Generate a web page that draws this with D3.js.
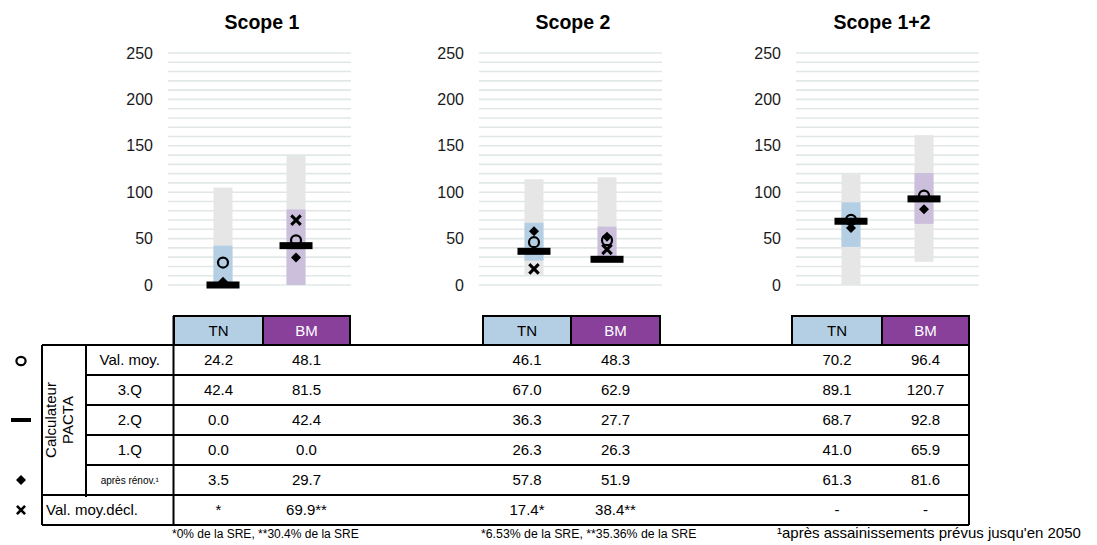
<!DOCTYPE html>
<html>
<head>
<meta charset="utf-8">
<script src="https://cdn.jsdelivr.net/npm/d3@7"></script>
<style>
  html, body { margin: 0; padding: 0; background: #fff; }
  svg { display: block; font-family: "Liberation Sans", Arial, sans-serif; }
</style>
</head>
<body>
<svg id="chart" width="1097" height="545"></svg>
<script>
// ---------- DATA ----------
const scopes = ["Scope 1", "Scope 2", "Scope 1+2"];
const categories = ["TN", "BM"];
const valMoy     = [[24.2, 48.1], [46.1, 48.3], [70.2, 96.4]];
const q3         = [[42.4, 81.5], [67.0, 62.9], [89.1, 120.7]];
const q2         = [[0.0, 42.4], [36.3, 27.7], [68.7, 92.8]];
const q1         = [[0.0, 0.0], [26.3, 26.3], [41.0, 65.9]];
const apresRenov = [[3.5, 29.7], [57.8, 51.9], [61.3, 81.6]];
const valMoyDecl = [[null, 69.9], [17.4, 38.4], [null, null]];
const declLabels = [["*", "69.9**"], ["17.4*", "38.4**"], ["-", "-"]];
const rangeMin   = [[0, 0], [11, 26.3], [0, 25]];
const rangeMax   = [[105, 139], [114, 116], [119.5, 161.5]];
const yTicks     = [0, 50, 100, 150, 200, 250];
const rowLabels  = ["Val. moy.", "3.Q", "2.Q", "1.Q", "après rénov.¹", "Val. moy.décl."];
const groupLabel = ["Calculateur", "PACTA"];
const footnotes  = ["*0% de la SRE, **30.4% de la SRE", "*6.53% de la SRE, **35.36% de la SRE", "¹après assainissements prévus jusqu'en 2050"];

// ---------- LAYOUT ----------
const layout = [
  { x0: 168, x1: 351, titleX: 262, cols: [174, 263, 350], noteX: 172, noteSize: 12 },
  { x0: 479, x1: 662, titleX: 573, cols: [483, 571, 660], noteX: 481, noteSize: 12.3 },
  { x0: 796, x1: 979, titleX: 882, cols: [792, 882, 969], noteX: 777, noteSize: 15 }
];
const colors = {
  range: "#e6e6e6",
  box: { TN: "#b4cfe4", BM: "#cbbfdc" },
  header: { TN: "#b4cfe4", BM: "#88409b" },
  headerText: { TN: "#000", BM: "#fff" },
  grid: "#e1e7e7"
};

const svg = d3.select("#chart");
const y = d3.scaleLinear().domain([0, 250]).range([285, 53]);
const gridVals = d3.range(0, 251, 10);

scopes.forEach((scope, si) => {
  const L = layout[si];
  const x = d3.scalePoint().domain(categories).range([L.x0, L.x1]).padding(0.753);
  const g = svg.append("g");

  g.append("text").attr("x", L.titleX).attr("y", 29).attr("text-anchor", "middle")
    .attr("font-size", 19.5).attr("font-weight", "bold").text(scope);

  g.selectAll("line.grid").data(gridVals).enter().append("line")
    .attr("x1", L.x0).attr("x2", L.x1)
    .attr("y1", d => y(d)).attr("y2", d => y(d))
    .attr("stroke", colors.grid).attr("stroke-width", 1.6);

  const ax = g.append("g").attr("transform", `translate(${L.x0},0)`)
    .call(d3.axisLeft(y).tickValues(yTicks).tickSize(0).tickPadding(15));
  ax.select(".domain").remove();
  ax.selectAll("text").attr("font-size", 16).attr("fill", "#1a1a1a")
    .attr("font-family", '"Liberation Sans", Arial, sans-serif');

  const bw = 19, mw = 33, mh = 7;
  categories.forEach((c, ci) => {
    const cx = x(c);
    g.append("rect").attr("x", cx - bw / 2).attr("width", bw)
      .attr("y", y(rangeMax[si][ci])).attr("height", y(rangeMin[si][ci]) - y(rangeMax[si][ci]))
      .attr("fill", colors.range);
    g.append("rect").attr("x", cx - bw / 2).attr("width", bw)
      .attr("y", y(q3[si][ci])).attr("height", y(q1[si][ci]) - y(q3[si][ci]))
      .attr("fill", colors.box[c]);
    g.append("circle").attr("cx", cx).attr("cy", y(valMoy[si][ci])).attr("r", 5)
      .attr("fill", "none").attr("stroke", "#000").attr("stroke-width", 2.2);
    g.append("rect").attr("x", cx - mw / 2).attr("width", mw)
      .attr("y", y(q2[si][ci]) - mh / 2).attr("height", mh).attr("fill", "#000");
    g.append("path").attr("d", d3.symbol(d3.symbolDiamond2, 64)())
      .attr("transform", `translate(${cx},${y(apresRenov[si][ci])})`).attr("fill", "#000");
    const v = valMoyDecl[si][ci];
    if (v !== null) {
      g.append("path").attr("d", d3.symbol(d3.symbolX, 60)())
        .attr("transform", `translate(${cx},${y(v)})`)
        .attr("stroke", "#000").attr("stroke-width", 3).attr("fill", "none");
    }
  });
});

// ---------- TABLE ----------
const tTop = 345, rowH = 30, hTop = 316;
const xL = 42, xM = 86, xR = 969, xLab = 173.5;
const t = svg.append("g");
const ln = (x1, y1, x2, y2, w = 2) => t.append("line").attr("x1", x1).attr("y1", y1).attr("x2", x2).attr("y2", y2)
  .attr("stroke", "#000").attr("stroke-width", w);

layout.forEach(L => {
  categories.forEach((c, ci) => {
    t.append("rect").attr("x", L.cols[ci]).attr("y", hTop)
      .attr("width", L.cols[ci + 1] - L.cols[ci]).attr("height", tTop - hTop)
      .attr("fill", colors.header[c]).attr("stroke", "#000").attr("stroke-width", 2);
    t.append("text").attr("x", (L.cols[ci] + L.cols[ci + 1]) / 2).attr("y", (hTop + tTop) / 2)
      .attr("dy", "0.36em").attr("text-anchor", "middle").attr("font-size", 15)
      .attr("fill", colors.headerText[c]).text(c);
  });
});

ln(xL, tTop, xR, tTop);
[1, 2, 3, 4].forEach(i => ln(xM, tTop + i * rowH, xR, tTop + i * rowH));
ln(xL, tTop + 5 * rowH, xR, tTop + 5 * rowH);
ln(xL, tTop + 6 * rowH, xR, tTop + 6 * rowH);
ln(xL, tTop, xL, tTop + 6 * rowH);
ln(xM, tTop, xM, tTop + 5 * rowH + 2);
ln(xLab, hTop, xLab, tTop + 6 * rowH);
ln(xR, hTop, xR, tTop + 6 * rowH);

rowLabels.forEach((lab, i) => {
  const cy = tTop + i * rowH + rowH / 2;
  if (i === 5) {
    t.append("text").attr("x", xL + 4).attr("y", cy).attr("dy", "0.36em").attr("font-size", 15).text(lab);
  } else {
    t.append("text").attr("x", (xM + xLab) / 2).attr("y", cy).attr("dy", "0.36em")
      .attr("text-anchor", "middle").attr("font-size", i === 4 ? 10 : 15).text(lab);
  }
});
groupLabel.forEach((lab, i) => {
  t.append("text").attr("transform", `translate(${56 + i * 17},${tTop + 2.5 * rowH}) rotate(-90)`)
    .attr("text-anchor", "middle").attr("font-size", 15).text(lab);
});

const rows = [valMoy, q3, q2, q1, apresRenov];
layout.forEach((L, si) => {
  categories.forEach((c, ci) => {
    const cx = (L.cols[ci] + L.cols[ci + 1]) / 2;
    rows.forEach((arr, ri) => {
      t.append("text").attr("x", cx).attr("y", tTop + ri * rowH + rowH / 2).attr("dy", "0.36em")
        .attr("text-anchor", "middle").attr("font-size", 15).text(d3.format(".1f")(arr[si][ci]));
    });
    t.append("text").attr("x", cx).attr("y", tTop + 5 * rowH + rowH / 2).attr("dy", "0.36em")
      .attr("text-anchor", "middle").attr("font-size", 15).text(declLabels[si][ci]);
  });
  t.append("text").attr("x", L.noteX).attr("y", 538).attr("font-size", L.noteSize).text(footnotes[si]);
});

const symX = 21;
t.append("ellipse").attr("cx", symX).attr("cy", tTop + rowH / 2 + 1).attr("rx", 4.6).attr("ry", 4.2)
  .attr("fill", "none").attr("stroke", "#000").attr("stroke-width", 2.2);
t.append("rect").attr("x", 11).attr("y", tTop + 2.5 * rowH - 2).attr("width", 20).attr("height", 4).attr("fill", "#000");
t.append("path").attr("d", d3.symbol(d3.symbolDiamond2, 64)())
  .attr("transform", `translate(${symX},${tTop + 4.5 * rowH})`).attr("fill", "#000");
t.append("path").attr("d", d3.symbol(d3.symbolX, 45)())
  .attr("transform", `translate(${symX},${tTop + 5.5 * rowH})`)
  .attr("stroke", "#000").attr("stroke-width", 2.6).attr("fill", "none");
</script>
</body>
</html>
